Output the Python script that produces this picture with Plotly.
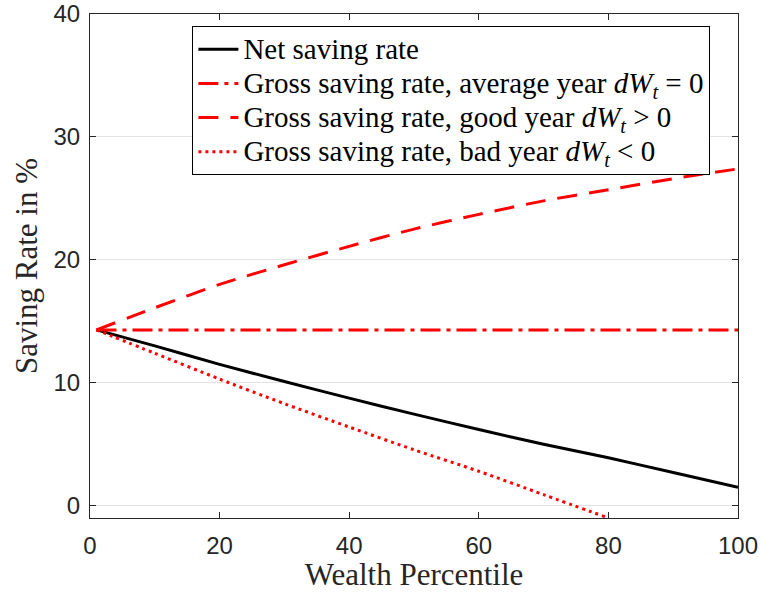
import plotly.graph_objects as go

# Wealth percentiles at which the saving rates are evaluated
percentile = [1, 10, 20, 30, 40, 50, 60, 70, 80, 90, 100]

# Saving rates in percent
net_rate = [14.3, 13.0, 11.5, 10.1, 8.75, 7.45, 6.2, 5.0, 3.9, 2.7, 1.5]
gross_average = [14.3, 14.3, 14.3, 14.3, 14.3, 14.3, 14.3, 14.3, 14.3, 14.3, 14.3]
gross_good = [14.3, 16.1, 18.0, 19.6, 21.1, 22.5, 23.7, 24.8, 25.7, 26.6, 27.4]
gross_bad = [14.3, 12.4, 10.3, 8.3, 6.4, 4.55, 2.8, 0.9, -1.0]
bad_percentile = percentile[:len(gross_bad)]

x_ticks = [0, 20, 40, 60, 80, 100]
y_ticks = [0, 10, 20, 30, 40]

RED = "#ff0000"
AXIS = "#262626"
SERIF = "Liberation Serif, Times New Roman, serif"
SANS = "Liberation Sans, Arial, Helvetica, sans-serif"


def entry(label):
    # legend rows are spaced by the legend font; the label itself is set larger
    return '<span style="font-size:29px">' + label + "</span>"


fig = go.Figure()
fig.add_trace(go.Scatter(
    x=percentile, y=net_rate, mode="lines", name=entry("Net saving rate"),
    line=dict(color="black", width=3, dash="solid", shape="spline", smoothing=0.8),
))
fig.add_trace(go.Scatter(
    x=percentile, y=gross_average, mode="lines",
    name=entry("Gross saving rate, average year <i>dW</i><sub><i>t</i></sub> = 0"),
    line=dict(color=RED, width=3, dash="20px,6px,4px,6px"),
))
fig.add_trace(go.Scatter(
    x=percentile, y=gross_good, mode="lines",
    name=entry("Gross saving rate, good year <i>dW</i><sub><i>t</i></sub> &gt; 0"),
    line=dict(color=RED, width=3, dash="20px,12px", shape="spline", smoothing=0.8),
))
fig.add_trace(go.Scatter(
    x=bad_percentile, y=gross_bad, mode="lines",
    name=entry("Gross saving rate, bad year <i>dW</i><sub><i>t</i></sub> &lt; 0"),
    line=dict(color=RED, width=3, dash="3px,4px", shape="spline", smoothing=0.8),
))

fig.update_layout(
    width=761, height=592,
    margin=dict(l=90, r=23, t=14, b=74),
    paper_bgcolor="white", plot_bgcolor="white",
    font=dict(family=SANS, color=AXIS, size=24),
    showlegend=True,
    legend=dict(
        x=0.158, y=0.976, xanchor="left", yanchor="top",
        bgcolor="white", bordercolor="black", borderwidth=1,
        font=dict(family=SERIF, size=24, color="black"),
        tracegroupgap=0, itemwidth=40,
    ),
)
fig.update_xaxes(
    range=[0, 100], tickvals=x_ticks, ticks="inside", ticklen=6,
    tickcolor=AXIS, showline=True, linecolor=AXIS, linewidth=1, mirror="ticks",
    showgrid=False, zeroline=False, automargin=False, ticklabelstandoff=6,
    tickfont=dict(family=SANS, size=24, color=AXIS),
    title=dict(text="Wealth Percentile", font=dict(family=SERIF, size=31, color=AXIS), standoff=2),
)
fig.update_yaxes(
    range=[-1, 40], tickvals=y_ticks, ticks="inside", ticklen=6,
    tickcolor=AXIS, showline=True, linecolor=AXIS, linewidth=1, mirror="ticks",
    showgrid=True, gridcolor="#e3e3e3", gridwidth=1, zeroline=False, automargin=False,
    ticklabelstandoff=4,
    tickfont=dict(family=SANS, size=24, color=AXIS),
    title=dict(text="Saving Rate in %", font=dict(family=SERIF, size=31, color=AXIS), standoff=6),
)

fig.write_html("out.html")
